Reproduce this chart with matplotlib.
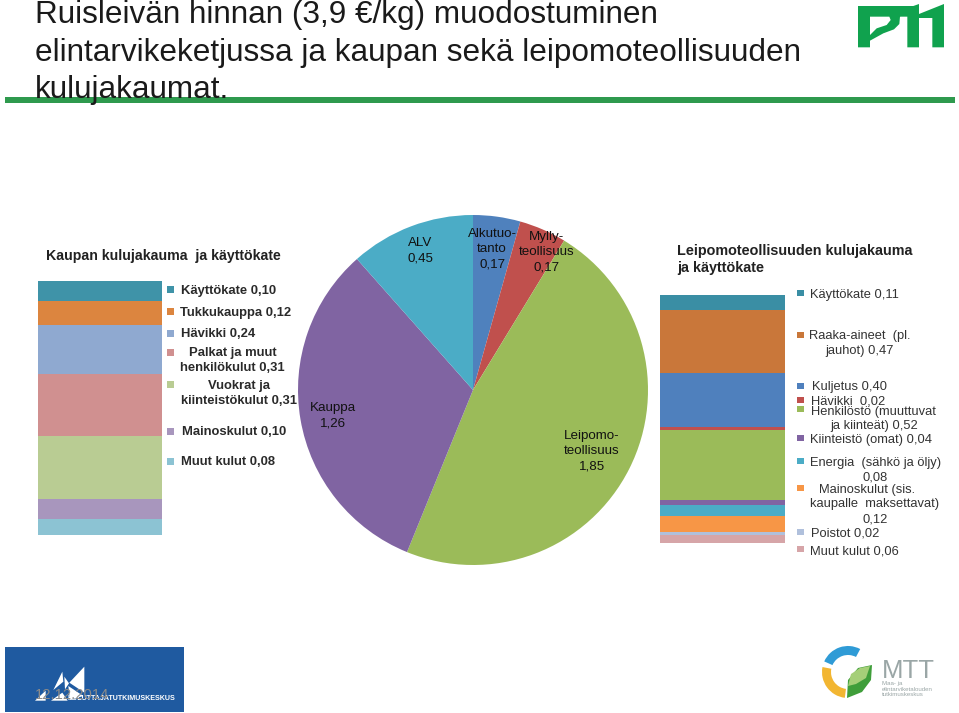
import matplotlib
matplotlib.use("Agg")
import matplotlib.pyplot as plt
from matplotlib.patches import Polygon, Rectangle, Wedge
import numpy as np

plt.rcParams['font.family'] = ['Liberation Sans', 'DejaVu Sans']

W, H = 959, 713

# ---- data ----
title_lines = ["Ruisleivän hinnan (3,9 €/kg) muodostuminen",
               "elintarvikeketjussa ja kaupan sekä leipomoteollisuuden",
               "kulujakaumat."]

pie_values = [0.17, 0.17, 1.85, 1.26, 0.45]
pie_colors = ["#4F81BD", "#C0504D", "#9BBB59", "#8064A2", "#4BACC6"]
pie_labels = ["Alkutuo-\ntanto\n0,17", "Mylly-\nteollisuus\n0,17",
              "Leipomo-\nteollisuus\n1,85", "Kauppa\n1,26", "ALV\n0,45"]
pie_label_xy = [(492, 249.5), (547, 252), (592, 451), (333, 416), (420, 251)]

shop_title = "Kaupan kulujakauma  ja käyttökate"
shop_values = [0.10, 0.12, 0.24, 0.31, 0.31, 0.10, 0.08]
shop_colors = ["#3F93A8", "#DC853F", "#8FA9D0", "#D09090", "#B9CC93", "#A896BD", "#8CC3D3"]
shop_marker_y = [289, 311, 333, 352, 384, 431, 461]
shop_texts = [("Käyttökate 0,10", 181, 291, "left"),
              ("Tukkukauppa 0,12", 180, 313, "left"),
              ("Hävikki 0,24", 181, 334, "left"),
              ("Palkat ja muut", 233, 353, "center"),
              ("henkilökulut 0,31", 232, 368, "center"),
              ("Vuokrat ja", 239, 386, "center"),
              ("kiinteistökulut 0,31", 239, 401, "center"),
              ("Mainoskulut 0,10", 182, 432, "left"),
              ("Muut kulut 0,08", 181, 462, "left")]

bakery_title = ["Leipomoteollisuuden kulujakauma", "ja käyttökate"]
bakery_values = [0.11, 0.47, 0.40, 0.02, 0.52, 0.04, 0.08, 0.12, 0.02, 0.06]
bakery_colors = ["#3A8EA4", "#C9773A", "#4F80BD", "#C0504D", "#9BBB59",
                 "#8064A2", "#4BACC6", "#F79646", "#B0C0DC", "#D6A5A8"]
bakery_marker_y = [293, 335, 386, 400, 409, 438, 461, 488, 532, 549]
bakery_texts = [("Käyttökate 0,11", 810, 295, "left"),
                ("Raaka-aineet  (pl.", 860, 336, "center"),
                ("jauhot) 0,47", 859, 351, "center"),
                ("Kuljetus 0,40", 812, 387, "left"),
                ("Hävikki  0,02", 811, 402, "left"),
                ("Henkilöstö (muuttuvat", 873, 412, "center"),
                ("ja kiinteät) 0,52", 874, 426, "center"),
                ("Kiinteistö (omat) 0,04", 810, 440, "left"),
                ("Energia  (sähkö ja öljy)", 810, 463, "left"),
                ("0,08", 875, 477, "center"),
                ("Mainoskulut (sis.", 867, 490, "center"),
                ("kaupalle  maksettavat)", 875, 504, "center"),
                ("0,12", 875, 519, "center"),
                ("Poistot 0,02", 811, 534, "left"),
                ("Muut kulut 0,06", 810, 552, "left")]

date_text = "12.12.2014"


def px_axes(fig, x0, y0, x1, y1, **kw):
    return fig.add_axes([x0 / W, 1 - y1 / H, (x1 - x0) / W, (y1 - y0) / H], **kw)


fig = plt.figure(figsize=(W / 100, H / 100), dpi=100, facecolor="white")

# overlay in pixel coordinates for text and decoration
ov = fig.add_axes([0, 0, 1, 1], zorder=5)
ov.set_xlim(0, W)
ov.set_ylim(H, 0)
ov.axis("off")
ov.patch.set_alpha(0)

# ---- heading ----
ov.add_patch(Rectangle((5, 97), 950, 6, color="#2E9A4E", lw=0))
for line, y in zip(title_lines, [23, 61, 98]):
    ov.text(35, y, line, fontsize=22.7, color="#1a1a1a", va="baseline", ha="left")

# ---- pie ----
pa = px_axes(fig, 473 - 175, 390 - 175, 473 + 175, 390 + 175, zorder=2)
pa.pie(pie_values, colors=pie_colors, startangle=90, counterclock=False, radius=1)
pa.set_xlim(-1, 1)
pa.set_ylim(-1, 1)
for lab, (x, y) in zip(pie_labels, pie_label_xy):
    ov.text(x, y, lab, fontsize=9.6, color="#111111", ha="center", va="center", linespacing=1.38)


def stacked(x0, y0, x1, y1, values, colors):
    a = px_axes(fig, x0, y0, x1, y1, zorder=1)
    cum = np.concatenate([[0], np.cumsum(values)])
    a.bar([0] * len(values), values, bottom=cum[:-1], width=1, color=colors, lw=0)
    a.set_xlim(-0.5, 0.5)
    a.set_ylim(cum[-1], 0)
    a.axis("off")


# ---- shop panel ----
ov.text(46, 256, shop_title, fontsize=10.2, fontweight="bold", color="#222222", va="center")
stacked(38, 281, 162, 535, shop_values, shop_colors)
for y, c in zip(shop_marker_y, shop_colors):
    ov.add_patch(Rectangle((167, y - 3.5), 7, 7, color=c, lw=0))
for t, x, y, ha in shop_texts:
    ov.text(x, y, t, fontsize=9.4, fontweight="bold", color="#2a2a2a", ha=ha, va="center")

# ---- bakery panel ----
for t, y in zip(bakery_title, [251, 268]):
    ov.text(677, y, t, fontsize=10.4, fontweight="bold", color="#222222", va="center")
stacked(660, 295, 785, 543, bakery_values, bakery_colors)
for y, c in zip(bakery_marker_y, bakery_colors):
    ov.add_patch(Rectangle((797, y - 3), 6.5, 6, color=c, lw=0))
for t, x, y, ha in bakery_texts:
    ov.text(x, y, t, fontsize=9.3, color="#333333", ha=ha, va="center")

# ---- PTT logo ----
g = "#10A24E"
def zp(pts):
    return [(850 + x / 3, y / 3) for x, y in pts]
ov.add_patch(Polygon(zp([(24, 18), (175, 18), (150, 50), (148, 72), (132, 88), (100, 100),
                         (60, 122), (60, 142), (24, 142)]), color=g, lw=0))
ov.add_patch(Polygon(zp([(60, 50), (118, 50), (122, 60), (110, 75), (80, 85), (60, 105)]),
                     color="white", lw=0))
ov.add_patch(Polygon(zp([(150, 18), (190, 18), (207, 12), (207, 142), (172, 142), (172, 50), (150, 50)]),
                     color=g, lw=0))
ov.add_patch(Polygon(zp([(207, 42), (282, 12), (282, 142), (247, 142), (247, 54), (207, 54)]),
                     color=g, lw=0))

# ---- lower left logo ----
ov.add_patch(Rectangle((5, 647), 179, 65, color="#1F5AA0", lw=0))
def zl(pts):
    return [(25 + x / 3, 650 + y / 3) for x, y in pts]
for pts in [[(112, 65), (85, 120), (115, 95)], [(178, 50), (133, 98), (178, 128)],
            [(30, 152), (62, 122), (62, 152)], [(78, 152), (112, 128), (128, 152)],
            [(130, 108), (175, 138), (135, 150)], [(118, 80), (132, 100), (120, 118)]]:
    ov.add_patch(Polygon(zl(pts), color="white", lw=0))
ov.text(68, 699, "KULUTTAJATUTKIMUSKESKUS", fontsize=5.1, fontweight="bold", color="white", va="center")
ov.text(35, 695, date_text, fontsize=10.6, color="#8a8a8a", va="center")

# ---- lower right logo ----
cx, cy = 848, 672
ov.add_patch(Wedge((cx, cy), 26, 204, 298, width=9, color="#2F9BD6", lw=0))
ov.add_patch(Wedge((cx, cy), 26, 97, 191, width=9, color="#F2B632", lw=0))
ov.add_patch(Polygon([(847, 698), (848, 680), (858, 668), (872, 665), (871, 680), (862, 692)],
                     color="#3F9E3A", lw=0))
ov.add_patch(Polygon([(848, 686), (851, 674), (860, 668), (870, 666), (866, 678), (856, 684)],
                     color="#A5CF78", lw=0))
ov.text(882, 671, "MTT", fontsize=18.5, color="#9aa6a6", va="center")
for t, y in zip(["Maa- ja", "elintarviketalouden", "tutkimuskeskus"], [684, 689.5, 695]):
    ov.text(882, y, t, fontsize=4.4, color="#9aa6a6", va="center")

fig.savefig("out.png", dpi=100)
